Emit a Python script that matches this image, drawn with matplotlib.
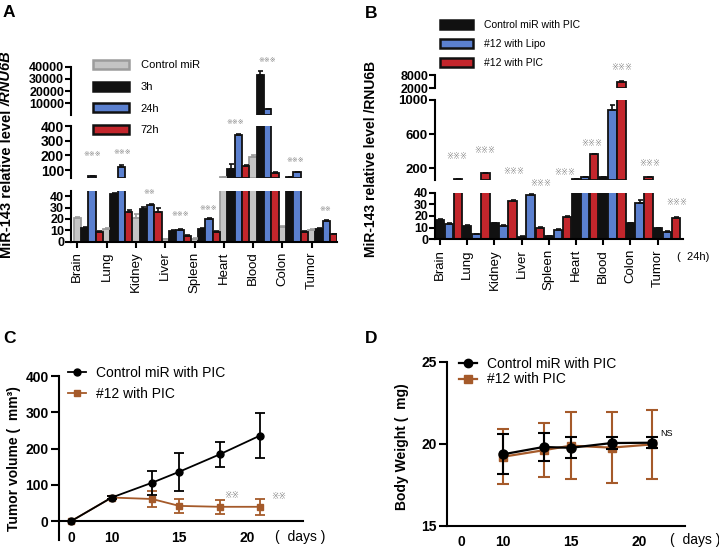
import numpy as np
import matplotlib
matplotlib.use('Agg')
import matplotlib.pyplot as plt
from matplotlib.patches import Patch
from matplotlib.lines import Line2D

W, H, DPI = 719, 548, 100
plt.rcParams['font.family'] = ['Liberation Sans', 'DejaVu Sans', 'Noto Sans CJK SC']
plt.rcParams['axes.linewidth'] = 1.5

# ---------------- data ----------------
organs = ['Brain', 'Lung', 'Kidney', 'Liver', 'Spleen', 'Heart', 'Blood', 'Colon', 'Tumor']

# Panel A
a_labels = ['Control miR', '3h', '24h', '72h']
a_ctrl = [21, 11, 20.5, 2, 2.5, 50, 190, 13, 10.5]
a_3h = [12, 42, 29, 9.5, 11, 105, 33000, 50, 11.5]
a_24h = [58, 122, 32, 10, 20, 340, 5000, 84, 18]
a_72h = [8.5, 26.5, 26, 5, 8.5, 127, 82, 8.5, 6.5]
a_ctrl_err = [1, 1, 4, 0.4, 0.4, 2, 10, 0.8, 0.8]
a_3h_err = [0.8, 0.8, 1.5, 0.5, 0.8, 35, 3500, 2, 0.8]
a_24h_err = [3, 10, 1.5, 0.8, 1, 8, 600, 5, 1.2]
a_72h_err = [0.8, 1.5, 4, 0.5, 0.8, 6, 5, 0.8, 0.6]

# Panel B
b_labels = ['Control miR with PIC', '#12 with Lipo', '#12 with PIC']
b_ctrl = [16.5, 11.4, 13.7, 2.2, 2.8, 66, 90, 13.7, 9.4]
b_lipo = [12.9, 4.3, 11.4, 37.8, 8, 90, 880, 30.9, 6.5]
b_pic = [72, 140, 32.9, 10, 19.4, 360, 5000, 90, 18.5]
b_ctrl_err = [1, 0.5, 0.6, 0.3, 0.3, 2, 3, 0.6, 0.5]
b_lipo_err = [0.8, 0.5, 0.6, 1, 0.6, 3, 60, 3, 0.5]
b_pic_err = [2, 6, 0.6, 0.6, 0.8, 8, 300, 4, 1]

# Panel C
c_days = [0, 10, 13, 15, 18, 21]
c_ctrl = [0, 65, 106, 136, 184, 236]
c_ctrl_err = [0, 4, 33, 52, 35, 61]
c_12 = [0, 65, 61, 42, 39.5, 39.5]
c_12_err = [0, 4, 21, 20, 19, 22]

# Panel D
d_days = [10, 13, 15, 18, 21]
d_ctrl = [19.35, 19.8, 19.75, 20.04, 20.06]
d_ctrl_err = [1.22, 0.85, 0.65, 0.35, 0.35]
d_12 = [19.2, 19.6, 19.88, 19.76, 19.96]
d_12_err = [1.67, 1.66, 2.05, 2.17, 2.1]
line_labels = ['Control miR with PIC', '#12 with PIC']

# ---------------- styles ----------------
GRAY, GRAYE = '#C4C4C4', '#9C9C9C'
BLACK = '#111111'
BLUE = '#5B80CF'
RED = '#C3262C'
BROWN = '#A55A2A'
MARK = '#8A8A8A'

fig = plt.figure(figsize=(W / DPI, H / DPI), dpi=DPI)


def rect(x0, y0, x1, y1):
    return [x0 / W, 1 - y1 / H, (x1 - x0) / W, (y1 - y0) / H]


def ftxt(x, y, s, **kw):
    return fig.text(x / W, 1 - y / H, s, **kw)


def style_seg(ax, show_x):
    for s in ['top', 'right']:
        ax.spines[s].set_visible(False)
    if not show_x:
        ax.spines['bottom'].set_visible(False)
        ax.tick_params(axis='x', bottom=False, labelbottom=False)
    ax.tick_params(axis='y', direction='out', length=4, width=1.5, pad=1)
    ax.tick_params(axis='x', direction='out', length=4, width=1.5, pad=3)
    ax.patch.set_alpha(0)


def bar_panel(rects, ylims, yticks, ysizes, xlim, series, fcs, ecs, errs, width, step):
    axes = []
    x0 = np.arange(len(organs))
    for i, (r, yl, yt, ys) in enumerate(zip(rects, ylims, yticks, ysizes)):
        ax = fig.add_axes(r)
        low = yl[0]
        for k, (vals, fc, ec, er) in enumerate(zip(series, fcs, ecs, errs)):
            vals = np.asarray(vals, float)
            er = np.asarray(er, float)
            x = x0 + k * step
            m = vals > low
            ax.bar(x[m], vals[m] - low, bottom=low, width=width, color=fc, edgecolor=ec,
                   linewidth=1.3, zorder=2)
            ax.errorbar(x[m], vals[m], yerr=[np.zeros(m.sum()), er[m]], fmt='none', ecolor=ec,
                        elinewidth=1.2, capsize=1.8, capthick=1.2, zorder=3)
        ax.set_xlim(xlim)
        ax.set_ylim(yl)
        ax.set_yticks(yt, [str(t) for t in yt], fontsize=ys, fontweight='bold')
        last = i == len(rects) - 1
        style_seg(ax, last)
        if last:
            ax.set_xticks(x0, organs, rotation=90, fontsize=9.5)
        axes.append(ax)
    return axes


# ---------------- Panel A ----------------
bar_panel([rect(71, 66.7, 337, 115), rect(71, 126, 337, 178.3), rect(71, 191, 337, 241.7)],
          [(400, 40000), (44.5, 400), (0, 44.5)],
          [[10000, 20000, 30000, 40000], [100, 200, 300, 400], [0, 10, 20, 30, 40]],
          [9, 10, 9],
          (-0.215, 8.863),
          [a_ctrl, a_3h, a_24h, a_72h],
          [GRAY, BLACK, BLUE, RED], [GRAYE, BLACK, BLACK, BLACK],
          [a_ctrl_err, a_3h_err, a_24h_err, a_72h_err], 0.25, 0.25)

a_handles = [Patch(facecolor=GRAY, edgecolor=GRAYE, linewidth=1.8),
             Patch(facecolor=BLACK, edgecolor=BLACK, linewidth=1.8),
             Patch(facecolor=BLUE, edgecolor=BLACK, linewidth=1.8),
             Patch(facecolor=RED, edgecolor=BLACK, linewidth=1.8)]
fig.legend(a_handles, a_labels, loc='upper left', bbox_to_anchor=(93 / W, 1 - 60 / H),
           frameon=False, fontsize=8, handlelength=3.2, handleheight=0.9,
           labelspacing=1.0, handletextpad=1.1, borderpad=0, borderaxespad=0)

for x, y, s in [(91.7, 154, '※※※'), (121.7, 153, '※※※'), (149, 192, '※※'),
                (180, 215, '※※※'), (208, 208, '※※※'), (235, 123, '※※※'),
                (266.7, 60, '※※※'), (295, 160, '※※※'), (325, 209, '※※')]:
    ftxt(x, y, s, fontsize=5, color=MARK, ha='center', va='center')

# y label with italic part
r = fig.canvas.get_renderer()
t1 = ftxt(7, 258, 'MiR-143 relative level', rotation=90, ha='center', va='bottom',
          fontsize=10.5, fontweight='bold')
bb = t1.get_window_extent(r)
fig.text(7 / W, (bb.y1 + 4) / H, '/RNU6B', rotation=90, ha='center', va='bottom',
         fontsize=10.5, fontweight='bold', style='italic')

# ---------------- Panel B ----------------
bar_panel([rect(435, 75, 683, 88.3), rect(435, 100, 683, 180), rect(435, 192.7, 683, 239.3)],
          [(2000, 8000), (60, 1000), (0, 40)],
          [[2000, 8000], [200, 600, 1000], [0, 10, 20, 30, 40]],
          [9, 9.5, 9],
          (-0.184, 8.93),
          [b_ctrl, b_lipo, b_pic],
          [BLACK, BLUE, RED], [BLACK, BLACK, BLACK],
          [b_ctrl_err, b_lipo_err, b_pic_err], 0.31, 1 / 3)

b_handles = [Patch(facecolor=BLACK, edgecolor=BLACK, linewidth=1.8),
             Patch(facecolor=BLUE, edgecolor=BLACK, linewidth=1.8),
             Patch(facecolor=RED, edgecolor=BLACK, linewidth=1.8)]
fig.legend(b_handles, b_labels, loc='upper left', bbox_to_anchor=(440 / W, 1 - 19.8 / H),
           frameon=False, fontsize=7.5, handlelength=3.2, handleheight=0.95,
           labelspacing=0.85, handletextpad=1.05, borderpad=0, borderaxespad=0)

for x, y in [(456.7, 157.7), (485, 151.7), (514, 172.3), (541, 185), (565, 173.3),
             (591.7, 144.3), (621.7, 69), (649.3, 165), (676.7, 203.3)]:
    ftxt(x, y, '※※※', fontsize=6, color=MARK, ha='center', va='center')

ftxt(371, 158.5, 'MiR-143 relative level /RNU6B', rotation=90, ha='center', va='center',
     fontsize=10, fontweight='bold')
ftxt(693, 256.7, '(  24h)', fontsize=8, ha='center', va='center')


# ---------------- Panels C & D ----------------
def fwd(d):
    d = np.asarray(d, dtype=float)
    return np.where(d < 10, 7 + 0.3 * d, d)


def inv(p):
    p = np.asarray(p, dtype=float)
    return np.where(p < 10, (p - 7) / 0.3, p)


def style_line_ax(ax):
    for s in ['top', 'right']:
        ax.spines[s].set_visible(False)
    ax.tick_params(axis='y', direction='out', length=5.5, width=1.5, pad=2)
    ax.tick_params(axis='x', length=0, pad=7)
    ax.patch.set_alpha(0)


# C
axC = fig.add_axes(rect(59, 376, 303, 540))
axC.set_xscale('function', functions=(fwd, inv))
axC.errorbar(c_days, c_12, yerr=c_12_err, color=BROWN, marker='s', ms=4.5, lw=1.3,
             capsize=3.5, elinewidth=1.3, capthick=1.3, zorder=3)
axC.errorbar(c_days, c_ctrl, yerr=c_ctrl_err, color='black', marker='o', ms=5, lw=1.3,
             capsize=3.5, elinewidth=1.3, capthick=1.3, zorder=4)
axC.set_xlim(-3.0, 24.17)
axC.set_ylim(-52, 400)
axC.spines['bottom'].set_position(('data', 0))
axC.set_yticks([0, 100, 200, 300, 400], ['0', '100', '200', '300', '400'], fontsize=10, fontweight='bold')
axC.set_xticks([0, 10, 15, 20], ['0', '10', '15', '20'], fontsize=10, fontweight='bold')
axC.xaxis.set_minor_locator(matplotlib.ticker.NullLocator())
style_line_ax(axC)
ftxt(14, 458.5, 'Tumor volume (  mm³)', rotation=90, ha='center', va='center',
     fontsize=10, fontweight='bold')
ftxt(300, 537, '(  days )', fontsize=10, ha='center', va='center')
for x, y in [(231.7, 496), (278.3, 496.7)]:
    ftxt(x, y, '※※', fontsize=6.5, color=MARK, ha='center', va='center')

c_handles = [Line2D([], [], color='black', marker='o', ms=5, lw=1.3),
             Line2D([], [], color=BROWN, marker='s', ms=4.5, lw=1.3)]
fig.legend(c_handles, line_labels, loc='upper left', bbox_to_anchor=(68 / W, 1 - 366 / H),
           frameon=False, fontsize=10, handlelength=1.3, labelspacing=0.5,
           handletextpad=0.7, borderpad=0, borderaxespad=0, numpoints=1)

# D
axD = fig.add_axes(rect(447.3, 361.7, 685, 525.7))
axD.set_xscale('function', functions=(fwd, inv))
axD.errorbar(d_days, d_12, yerr=d_12_err, color=BROWN, marker='s', ms=5.5, lw=1.6,
             capsize=4, elinewidth=1.5, capthick=1.5, zorder=3)
axD.errorbar(d_days, d_ctrl, yerr=d_ctrl_err, color='black', marker='o', ms=6.5, lw=1.6,
             capsize=4, elinewidth=1.5, capthick=1.5, zorder=4)
axD.set_xlim(-3.57, 23.4)
axD.set_ylim(15, 25)
axD.set_yticks([15, 20, 25], ['15', '20', '25'], fontsize=10, fontweight='bold')
axD.set_xticks([0, 10, 15, 20], ['0', '10', '15', '20'], fontsize=10, fontweight='bold')
axD.xaxis.set_minor_locator(matplotlib.ticker.NullLocator())
style_line_ax(axD)
ftxt(402, 447, 'Body Weight (  mg)', rotation=90, ha='center', va='center',
     fontsize=10, fontweight='bold')
ftxt(695, 540, '(  days )', fontsize=10, ha='center', va='center')
ftxt(666.7, 433.3, 'NS', fontsize=6.5, ha='center', va='center')

d_handles = [Line2D([], [], color='black', marker='o', ms=6, lw=1.6),
             Line2D([], [], color=BROWN, marker='s', ms=5.5, lw=1.6)]
fig.legend(d_handles, line_labels, loc='upper left', bbox_to_anchor=(459 / W, 1 - 357 / H),
           frameon=False, fontsize=10, handlelength=1.3, labelspacing=0.1,
           handletextpad=0.7, borderpad=0, borderaxespad=0, numpoints=1)

# panel letters
for x, y, s in [(3, 12.5, 'A'), (365, 13, 'B'), (3, 338.5, 'C'), (365, 338.5, 'D')]:
    ftxt(x, y, s, fontsize=12.5, fontweight='bold', ha='left', va='center')

fig.savefig('out.png', dpi=DPI)
